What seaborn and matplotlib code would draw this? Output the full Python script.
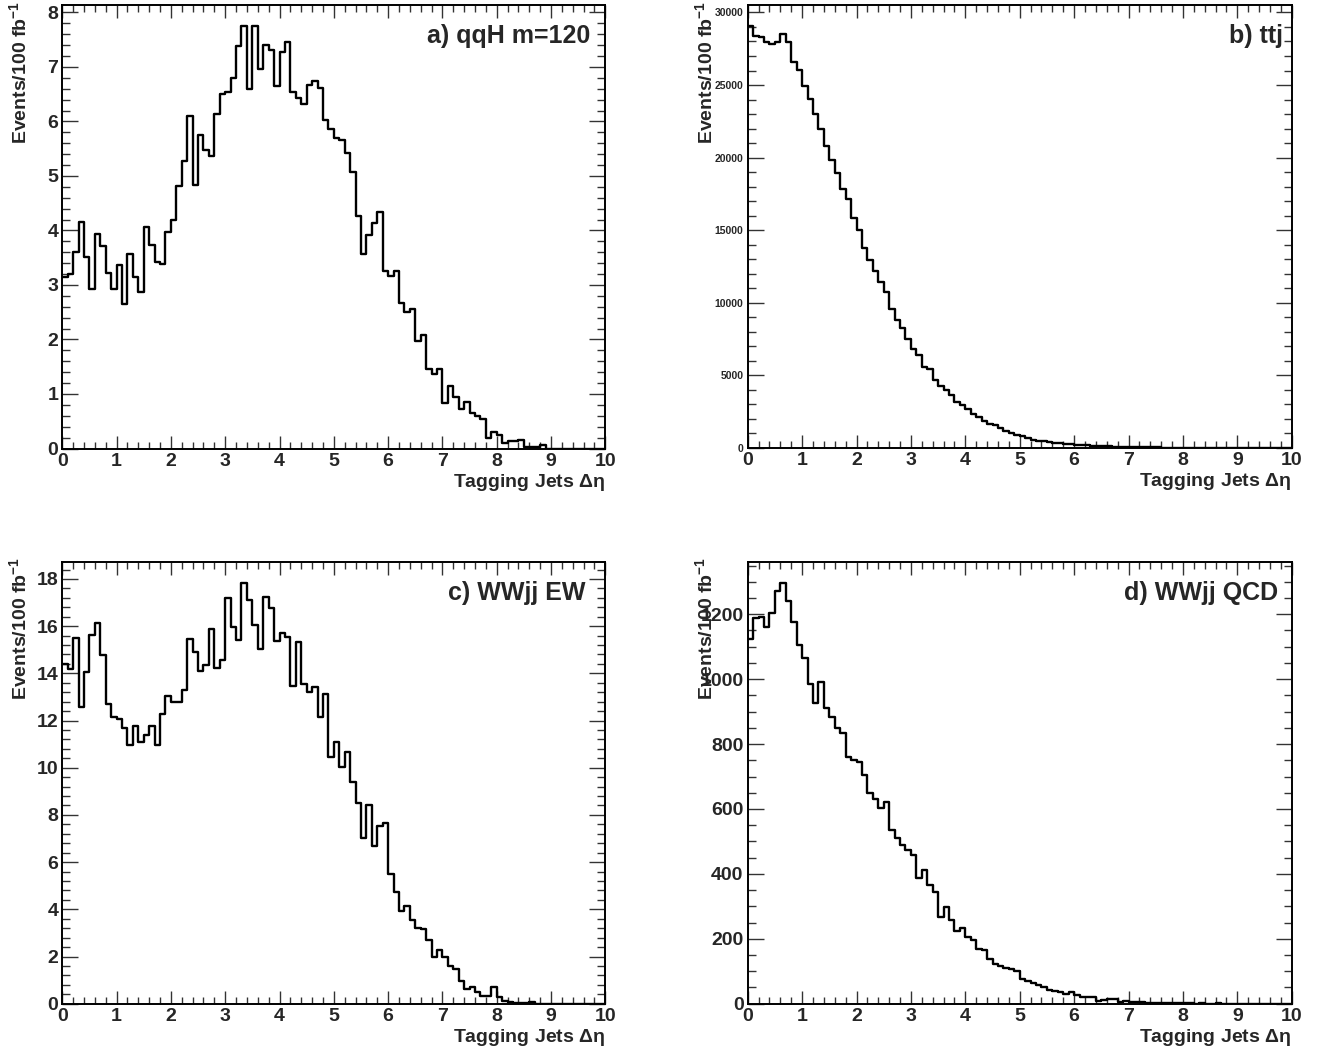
import numpy as np
import pandas as pd
import seaborn as sns
import matplotlib
matplotlib.use("Agg")
import matplotlib.pyplot as plt
from matplotlib.ticker import MultipleLocator

# ---------------- data (100 bins of 0.1 in Delta eta, 0..10) ----------------
bin_width = 0.1
x_range = (0.0, 10.0)

qqH_m120 = [
    3.15, 3.21, 3.60, 4.16, 3.52, 2.93, 3.94, 3.71, 3.22, 2.93,
    3.36, 2.66, 3.57, 3.14, 2.87, 4.06, 3.74, 3.42, 3.39, 3.98,
    4.19, 4.81, 5.27, 6.10, 4.84, 5.75, 5.48, 5.37, 6.13, 6.51,
    6.55, 6.79, 7.38, 7.75, 6.59, 7.75, 6.96, 7.41, 7.31, 6.65,
    7.28, 7.45, 6.54, 6.44, 6.33, 6.67, 6.75, 6.61, 6.02, 5.87,
    5.69, 5.66, 5.42, 5.07, 4.27, 3.57, 3.92, 4.13, 4.34, 3.26,
    3.16, 3.26, 2.67, 2.50, 2.56, 1.98, 2.08, 1.46, 1.36, 1.46,
    0.83, 1.14, 0.94, 0.73, 0.86, 0.65, 0.59, 0.55, 0.20, 0.31,
    0.25, 0.11, 0.13, 0.13, 0.16, 0.03, 0.03, 0.03, 0.06, 0.0,
    0.0, 0.0, 0.0, 0.0, 0.0, 0.0, 0.0, 0.0, 0.0, 0.0,
]

ttj = [
    29062, 28371, 28325, 27957, 27842, 27957, 28509, 27980, 26600, 26024,
    24966, 24068, 23010, 21998, 20801, 19812, 18937, 17856, 17165, 15831,
    15003, 13737, 12932, 12195, 11436, 10700, 9549, 8813, 8261, 7478,
    6834, 6374, 5591, 5453, 4671, 4257, 3958, 3613, 3152, 2922,
    2692, 2301, 2100, 1864, 1634, 1565, 1381, 1174, 989, 874,
    782, 644, 552, 483, 437, 368, 345, 299, 253, 230,
    207, 184, 161, 138, 115, 100, 85, 70, 60, 48,
    40, 32, 26, 21, 17, 14, 11, 9, 7, 6,
    5, 4, 3, 3, 2, 2, 1, 1, 1, 1,
    0, 0, 0, 0, 0, 0, 0, 0, 0, 0,
]

WWjj_EW = [
    14.38, 14.18, 15.51, 12.58, 14.05, 15.62, 16.12, 14.79, 12.70, 12.16,
    12.08, 11.67, 10.95, 11.75, 11.07, 11.37, 11.79, 10.95, 12.27, 13.05,
    12.80, 12.80, 13.31, 15.47, 14.92, 14.11, 14.35, 15.89, 14.24, 14.55,
    17.18, 15.97, 15.42, 17.84, 17.12, 16.03, 15.03, 17.25, 16.75, 15.38,
    15.69, 15.56, 13.46, 15.34, 13.53, 13.22, 13.42, 12.16, 13.11, 10.47,
    11.07, 10.04, 10.66, 9.41, 8.52, 7.01, 8.42, 6.69, 7.54, 7.64,
    5.51, 4.72, 3.93, 4.14, 3.53, 3.22, 3.16, 2.70, 1.98, 2.29,
    1.98, 1.61, 1.45, 0.96, 0.61, 0.69, 0.49, 0.31, 0.31, 0.72,
    0.27, 0.13, 0.08, 0.04, 0.02, 0.02, 0.06, 0.0, 0.0, 0.0,
    0.0, 0.0, 0.0, 0.0, 0.0, 0.0, 0.0, 0.0, 0.0, 0.0,
]

WWjj_QCD = [
    1125, 1189, 1190, 1162, 1205, 1271, 1297, 1241, 1176, 1105,
    1066, 985, 928, 992, 910, 882, 850, 835, 761, 750,
    744, 704, 650, 632, 603, 622, 535, 512, 489, 475,
    458, 386, 412, 365, 345, 268, 299, 258, 225, 234,
    204, 196, 167, 165, 138, 123, 116, 109, 106, 102,
    76, 69, 63, 59, 52, 41, 39, 35, 31, 35,
    26, 20, 20, 22, 8, 11, 13, 13, 4, 9,
    5, 4, 4, 3, 3, 1, 2, 1, 2, 1,
    1, 1, 0, 1, 0, 0, 1, 0, 0, 0,
    0, 0, 0, 0, 0, 0, 0, 0, 0, 0,
]

panel_titles = ["a) qqH m=120", "b) ttj", "c) WWjj EW", "d) WWjj QCD"]
panel_values = [qqH_m120, ttj, WWjj_EW, WWjj_QCD]
x_label = "Tagging Jets $\\mathrm{\\Delta\\eta}$"
y_label = "Events/100 fb$^{-1}$"

# ---------------- style ----------------
sns.set_style("ticks")
plt.rcParams["font.family"] = ["Liberation Sans", "DejaVu Sans"]
plt.rcParams["font.weight"] = "bold"
plt.rcParams["mathtext.fontset"] = "custom"
plt.rcParams["mathtext.rm"] = "Liberation Sans"
plt.rcParams["mathtext.default"] = "regular"

W, H = 1317, 1053
fig = plt.figure(figsize=(W / 100, H / 100), dpi=100)

# frame boxes in pixels: (left, right, top, bottom)
frames = [
    (62.3, 605.3, 5.0, 448.5),
    (747.7, 1291.7, 5.0, 447.7),
    (62.3, 605.3, 561.7, 1003.7),
    (747.7, 1291.7, 561.7, 1003.7),
]
y_major = [1, 5000, 2, 200]
y_minor = [0.2, 1000, 0.4, 50]
ylab_size = [14, 7.5, 14, 14]
title_x = [0.972, 0.984, 0.963, 0.975]

n_bins = int(round((x_range[1] - x_range[0]) / bin_width))
centers = x_range[0] + bin_width * (np.arange(n_bins) + 0.5)

for i in range(4):
    l, r, t, b = frames[i]
    ax = fig.add_axes([l / W, 1 - b / H, (r - l) / W, (b - t) / H])
    df = pd.DataFrame({"deta": centers, "w": np.asarray(panel_values[i], float)})
    sns.histplot(data=df, x="deta", weights="w", binwidth=bin_width,
                 binrange=x_range, element="step", fill=False,
                 color="black", linewidth=1.7, ax=ax)
    ymax = 1.05 * max(panel_values[i])
    ax.set_xlim(*x_range)
    ax.set_ylim(0, ymax)

    ax.xaxis.set_major_locator(MultipleLocator(1))
    ax.xaxis.set_minor_locator(MultipleLocator(0.2))
    ax.yaxis.set_major_locator(MultipleLocator(y_major[i]))
    ax.yaxis.set_minor_locator(MultipleLocator(y_minor[i]))

    ax.tick_params(which="both", direction="in", top=True, right=True,
                   width=1.0, color="#333333")
    ax.tick_params(axis="x", which="major", length=9.5, pad=3, labelsize=14)
    ax.tick_params(axis="x", which="minor", length=5)
    ax.tick_params(axis="y", which="major", length=11.5, pad=3,
                   labelsize=ylab_size[i])
    ax.tick_params(axis="y", which="minor", length=6)
    for lab in ax.get_xticklabels() + ax.get_yticklabels():
        lab.set_fontweight("bold")

    for sp in ax.spines.values():
        sp.set_linewidth(1.4)
        sp.set_color("black")

    ax.set_xlabel(x_label, fontsize=14, fontweight="bold", loc="right")
    ax.xaxis.set_label_coords(1.0, -0.052)
    ax.set_ylabel(y_label, fontsize=14, fontweight="bold", loc="top")
    ax.yaxis.set_label_coords(-32 / (r - l), 1.01)

    ax.text(title_x[i], 0.93, panel_titles[i], transform=ax.transAxes,
            ha="right", va="center", fontsize=18, fontweight="bold")

fig.savefig("out.png", dpi=100, facecolor="white")
